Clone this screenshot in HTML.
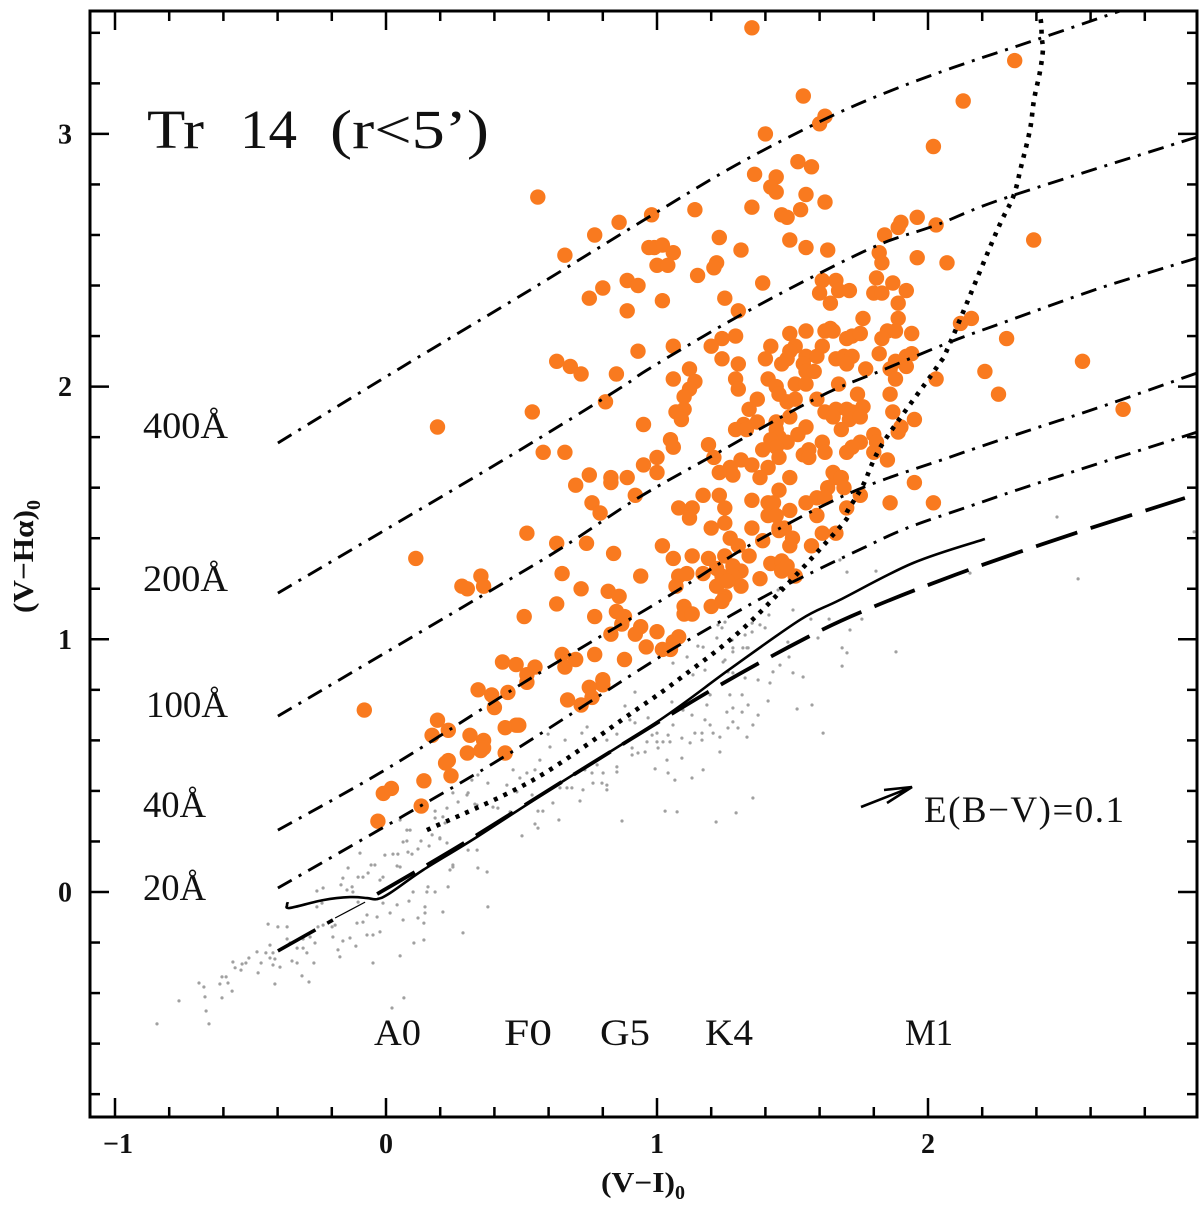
<!DOCTYPE html>
<html lang="en">
<head>
<meta charset="utf-8">
<title>Tr 14 (V-Hα)0 vs (V-I)0 diagram</title>
<style>
html,body{margin:0;padding:0;background:#fff;}
svg{display:block;}
text{font-family:"Liberation Serif",serif;fill:#111;}
.lab{font-size:37px;}
.tick{font-size:28px;font-weight:bold;}
.axt{font-size:28px;font-weight:bold;}
.ttl{font-size:55px;}
</style>
</head>
<body>
<svg id="chart" xmlns="http://www.w3.org/2000/svg" width="1200" height="1205" viewBox="0 0 1200 1205">
  <rect x="0" y="0" width="1200" height="1205" fill="#fff"/>
  <defs><clipPath id="plotClip"><rect x="90" y="11" width="1107" height="1106"/></clipPath></defs>
  <g id="field" clip-path="url(#plotClip)"></g>
  <g id="members" clip-path="url(#plotClip)"></g>
  <g id="curves" clip-path="url(#plotClip)"></g>
  <g id="ticks"></g>
  <rect x="90" y="11" width="1107" height="1106" fill="none" stroke="#000" stroke-width="3"/>

  <g>
    <text class="ttl" x="147" y="148" textLength="57" lengthAdjust="spacingAndGlyphs">Tr</text>
    <text class="ttl" x="240" y="148" textLength="57" lengthAdjust="spacingAndGlyphs">14</text>
    <text class="ttl" x="330" y="148" textLength="159" lengthAdjust="spacingAndGlyphs">(r&lt;5’)</text>
  </g>

  <text class="lab" x="143" y="438" textLength="85" lengthAdjust="spacingAndGlyphs">400Å</text>
  <text class="lab" x="143" y="591" textLength="85" lengthAdjust="spacingAndGlyphs">200Å</text>
  <text class="lab" x="146" y="717" textLength="82" lengthAdjust="spacingAndGlyphs">100Å</text>
  <text class="lab" x="143" y="817" textLength="63" lengthAdjust="spacingAndGlyphs">40Å</text>
  <text class="lab" x="143" y="900" textLength="63" lengthAdjust="spacingAndGlyphs">20Å</text>

  <text class="lab" x="374" y="1045" textLength="47" lengthAdjust="spacingAndGlyphs">A0</text>
  <text class="lab" x="504" y="1045" textLength="48" lengthAdjust="spacingAndGlyphs">F0</text>
  <text class="lab" x="600" y="1045" textLength="50" lengthAdjust="spacingAndGlyphs">G5</text>
  <text class="lab" x="705" y="1045" textLength="48" lengthAdjust="spacingAndGlyphs">K4</text>
  <text class="lab" x="905" y="1045" textLength="48" lengthAdjust="spacingAndGlyphs">M1</text>

  <g fill="none" stroke="#000" stroke-width="2.6">
    <path d="M861 807 L912 787 M884 790 L912 787 L887 803"/>
  </g>
  <text class="lab" x="924" y="822" textLength="200" lengthAdjust="spacing">E(B−V)=0.1</text>

  <text class="axt" x="601" y="1192" textLength="74" lengthAdjust="spacingAndGlyphs">(V−I)</text>
  <text class="axt" x="675" y="1199" style="font-size:20px">0</text>
  <g transform="translate(33,613) rotate(-90)">
    <text class="axt" x="0" y="0" textLength="103" lengthAdjust="spacingAndGlyphs">(V−Hα)</text>
    <text class="axt" x="103" y="7" style="font-size:20px">0</text>
  </g>
</svg>
<script>
// ---- chart data (in magnitudes) ----
const xMajorTicks = [-1, 0, 1, 2];
const xMinorTicks = [-0.8, -0.6, -0.4, -0.2, 0.2, 0.4, 0.6, 0.8, 1.2, 1.4, 1.6, 1.8, 2.2, 2.4, 2.6, 2.8];
const yMajorTicks = [0, 1, 2, 3];
const yMinorTicks = [-0.8, -0.6, -0.4, -0.2, 0.2, 0.4, 0.6, 0.8, 1.2, 1.4, 1.6, 1.8, 2.2, 2.4, 2.6, 2.8, 3.2, 3.4];
const xTickLabels = ["−1", "0", "1", "2"];
const yTickLabels = ["0", "1", "2", "3"];

const ew400X = [-0.399, 0.052, 0.531, 0.982, 1.292, 1.598, 1.823, 2.089, 2.417, 2.745];
const ew400Y = [1.777, 2.073, 2.382, 2.679, 2.877, 3.047, 3.154, 3.261, 3.379, 3.5];
const ew200X = [-0.399, 0.421, 0.852, 0.974, 1.295, 1.601, 1.834, 2.03, 2.295, 2.993];
const ew200Y = [1.183, 1.702, 1.986, 2.073, 2.275, 2.449, 2.568, 2.639, 2.75, 2.988];
const ew100X = [-0.399, 0.421, 0.653, 0.93, 1.196, 1.59, 1.834, 2.081, 2.303, 2.635, 2.993];
const ew100Y = [0.696, 1.215, 1.365, 1.559, 1.721, 1.955, 2.066, 2.176, 2.263, 2.39, 2.509];
const ew40X = [-0.399, 0.015, 0.542, 1.048, 1.343, 1.712, 2.081, 2.376, 2.635, 2.993];
const ew40Y = [0.245, 0.495, 0.851, 1.175, 1.373, 1.579, 1.721, 1.828, 1.919, 2.054];
const ew20X = [-0.399, 0.07, 0.446, 0.974, 1.148, 1.406, 1.59, 1.76, 1.922, 2.166, 2.439, 2.993];
const ew20Y = [0.016, 0.305, 0.542, 0.906, 1.017, 1.175, 1.274, 1.361, 1.44, 1.531, 1.63, 1.82];
const dottedX = [0.151, 0.542, 0.911, 1.092, 1.343, 1.675, 1.701, 1.76, 1.834, 2.03, 2.081, 2.251, 2.314, 2.343, 2.376, 2.391, 2.413, 2.424, 2.42, 2.417, 2.409];
const dottedY = [0.245, 0.443, 0.712, 0.851, 1.068, 1.444, 1.504, 1.61, 1.777, 2.073, 2.172, 2.608, 2.75, 2.869, 3.015, 3.134, 3.245, 3.332, 3.379, 3.443, 3.482];
const dwarfX = [-0.362, -0.365, -0.354, -0.232, -0.133, -0.07, -0.033, 0.015, 0.137, 0.336, 0.642, 1.011, 1.269, 1.528, 1.675, 1.945, 2.21];
const dwarfY = [-0.04, -0.051, -0.063, -0.032, -0.02, -0.024, -0.028, -0.004, 0.087, 0.218, 0.431, 0.681, 0.882, 1.077, 1.156, 1.302, 1.397];
const giantLowX = [-0.399, -0.196];
const giantLowY = [-0.233, -0.111];
const giantThinX = [-0.188, -0.077];
const giantThinY = [-0.103, -0.04];
const giantX = [-0.033, 0.288, 0.69, 1.188, 1.557, 1.797, 2.148, 2.546, 2.948];
const giantY = [-0.008, 0.194, 0.463, 0.791, 1.009, 1.128, 1.274, 1.421, 1.559];

const memberStars = [
[1.35,3.42],[2.32,3.29],[1.54,3.15],[2.13,3.13],[1.62,3.07],[1.60,3.04],[1.40,3.00],[2.02,2.95],[1.52,2.89],[1.57,2.87],
[1.36,2.84],[1.44,2.83],[1.42,2.79],[1.44,2.77],[1.55,2.76],[0.56,2.75],[1.62,2.73],[1.35,2.71],[1.14,2.70],[1.46,2.68],
[1.48,2.67],[1.53,2.70],[0.98,2.68],[0.86,2.65],[1.96,2.67],[1.90,2.65],[1.89,2.63],[2.03,2.64],[0.77,2.60],[1.84,2.60],
[1.23,2.59],[1.49,2.58],[2.39,2.58],[0.99,2.55],[1.02,2.56],[1.06,2.53],[1.00,2.48],[1.04,2.48],[0.97,2.55],[1.31,2.54],
[1.55,2.55],[1.63,2.54],[0.66,2.52],[1.82,2.53],[1.83,2.49],[1.96,2.51],[2.07,2.49],[1.15,2.44],[1.22,2.49],[1.21,2.47],
[1.39,2.41],[1.25,2.35],[1.02,2.34],[1.30,2.30],[0.80,2.39],[0.75,2.35],[0.89,2.42],[0.93,2.40],[0.89,2.30],[1.61,2.42],
[1.66,2.42],[1.60,2.37],[1.67,2.38],[1.71,2.38],[1.64,2.33],[1.81,2.43],[1.87,2.41],[1.80,2.37],[1.83,2.37],[1.92,2.38],
[1.89,2.33],[1.89,2.27],[1.76,2.27],[1.85,2.22],[1.88,2.22],[1.83,2.19],[1.94,2.21],[1.49,2.21],[1.55,2.22],[1.62,2.22],
[1.64,2.23],[1.65,2.22],[1.70,2.19],[1.72,2.20],[1.75,2.21],[1.29,2.20],[1.24,2.19],[1.20,2.16],[1.06,2.16],[1.42,2.16],
[1.51,2.16],[1.49,2.14],[1.40,2.11],[1.48,2.11],[1.46,2.09],[1.61,2.16],[1.55,2.12],[1.59,2.12],[1.66,2.11],[1.69,2.12],
[1.72,2.12],[1.70,2.09],[1.82,2.13],[1.92,2.12],[1.94,2.13],[1.88,2.10],[1.92,2.08],[1.86,2.07],[1.77,2.07],[1.88,2.03],
[2.03,2.03],[1.24,2.11],[1.30,2.09],[1.12,2.07],[1.14,2.02],[1.06,2.03],[1.12,1.99],[1.10,1.96],[1.54,2.09],[1.55,2.06],
[1.58,2.06],[1.29,2.03],[1.30,1.99],[1.41,2.03],[1.44,2.00],[1.45,1.97],[1.51,2.01],[1.55,2.01],[1.67,2.01],[1.59,1.95],
[1.74,1.97],[1.86,1.97],[1.37,1.95],[1.34,1.91],[1.48,1.94],[1.51,1.95],[1.76,1.92],[1.62,1.90],[1.66,1.91],[1.65,1.88],
[1.70,1.91],[1.72,1.90],[1.71,1.87],[1.75,1.88],[1.68,1.83],[1.87,1.90],[1.95,1.87],[1.90,1.84],[1.89,1.82],[1.10,1.91],
[1.07,1.90],[1.09,1.87],[1.49,1.88],[1.44,1.86],[1.37,1.86],[1.32,1.85],[1.29,1.83],[1.33,1.83],[1.55,1.84],[1.52,1.81],
[1.44,1.83],[1.45,1.80],[1.48,1.78],[1.42,1.79],[1.44,1.76],[1.39,1.75],[1.45,1.72],[1.05,1.79],[1.06,1.76],[1.00,1.72],
[1.00,1.66],[1.19,1.77],[1.21,1.72],[1.61,1.78],[1.62,1.74],[1.56,1.75],[1.54,1.73],[1.56,1.72],[1.75,1.78],[1.72,1.76],
[1.70,1.74],[1.80,1.81],[1.81,1.78],[1.80,1.74],[1.85,1.71],[1.31,1.71],[1.35,1.69],[1.27,1.68],[1.28,1.65],[1.23,1.66],
[1.41,1.68],[1.38,1.64],[1.49,1.64],[1.65,1.66],[1.66,1.64],[1.68,1.64],[1.69,1.60],[1.63,1.60],[1.95,1.62],[1.45,1.59],
[1.17,1.57],[1.23,1.57],[1.59,1.56],[1.62,1.56],[1.75,1.57],[1.86,1.54],[2.02,1.54],[1.35,1.55],[1.41,1.54],[1.43,1.54],
[1.55,1.54],[1.08,1.52],[1.13,1.52],[1.25,1.52],[1.12,1.48],[1.25,1.46],[1.49,1.51],[1.70,1.52],[1.41,1.49],[1.44,1.49],
[1.59,1.49],[1.20,1.44],[1.35,1.44],[1.45,1.44],[1.47,1.44],[1.02,1.37],[1.06,1.32],[1.13,1.33],[1.19,1.32],[1.25,1.33],
[1.27,1.40],[1.30,1.37],[1.34,1.33],[1.39,1.39],[1.45,1.43],[1.50,1.40],[1.49,1.37],[1.57,1.37],[1.61,1.42],[1.66,1.42],
[1.42,1.30],[1.46,1.31],[1.46,1.27],[1.48,1.29],[1.51,1.25],[1.38,1.24],[1.08,1.25],[1.11,1.26],[1.07,1.21],[1.17,1.26],
[1.22,1.28],[1.28,1.29],[1.31,1.27],[1.24,1.25],[1.28,1.25],[1.22,1.21],[1.31,1.21],[1.26,1.23],[1.25,1.17],[1.20,1.13],
[1.24,1.15],[1.10,1.13],[1.10,1.10],[1.13,1.10],[1.00,1.03],[1.08,1.01],[1.06,0.99],[1.02,0.96],[0.93,2.14],[0.63,2.10],
[0.68,2.08],[0.72,2.05],[0.85,2.05],[0.81,1.94],[0.54,1.90],[0.95,1.85],[0.58,1.74],[0.66,1.74],[0.95,1.69],[0.75,1.65],
[0.70,1.61],[0.83,1.64],[0.83,1.62],[0.89,1.64],[0.92,1.57],[0.76,1.54],[0.79,1.50],[0.52,1.42],[0.63,1.38],[0.74,1.38],
[0.84,1.34],[0.94,1.25],[0.65,1.26],[0.72,1.20],[0.82,1.19],[0.86,1.17],[0.63,1.14],[0.51,1.09],[0.77,1.09],[0.85,1.11],
[0.88,1.09],[0.87,1.06],[0.94,1.05],[0.83,1.02],[0.92,1.02],[0.96,0.97],[0.65,0.94],[0.66,0.89],[0.70,0.92],[0.77,0.94],
[0.88,0.92],[0.43,0.91],[0.48,0.90],[0.55,0.89],[0.52,0.86],[0.52,0.83],[0.80,0.84],[0.80,0.82],[0.75,0.81],[0.76,0.77],
[0.72,0.74],[0.67,0.76],[1.05,0.96],[0.34,0.80],[0.39,0.78],[0.45,0.79],[0.40,0.73],[0.19,0.68],[0.23,0.64],[0.17,0.62],
[0.31,0.62],[0.30,0.55],[0.36,0.60],[0.36,0.57],[0.35,0.56],[0.44,0.65],[0.48,0.66],[0.49,0.66],[0.44,0.55],[0.23,0.52],
[0.22,0.51],[0.24,0.46],[0.14,0.44],[0.13,0.34],[-0.01,0.39],[0.02,0.41],[-0.03,0.28],[-0.08,0.72],[0.19,1.84],[0.11,1.32],
[0.28,1.21],[0.30,1.20],[0.35,1.25],[0.36,1.21],[2.57,2.10],[2.72,1.91],[2.29,2.19],[2.21,2.06],[2.26,1.97],[2.16,2.27],[2.12,2.25]
];

const fieldStars = [
[-.845,-.522],[-.764,-.431],[-.69,-.36],[-.672,-.376],[-.668,-.415],[-.664,-.471],[-.653,-.522],[-.613,-.364],[-.605,-.336],[-.59,-.336],
[-.583,-.36],[-.605,-.419],[-.568,-.392],[-.565,-.277],[-.557,-.30],[-.535,-.309],[-.531,-.285],[-.517,-.281],[-.506,-.261],[-.476,-.237],
[-.472,-.32],[-.461,-.281],[-.443,-.241],[-.428,-.21],[-.417,-.241],[-.428,-.261],[-.41,-.265],[-.417,-.289],[-.391,-.297],[-.41,-.364],
[-.399,-.138],[-.435,-.127],[-.365,-.138],[-.365,-.186],[-.354,-.202],[-.328,-.222],[-.306,-.222],[-.292,-.241],[-.347,-.273],[-.328,-.281],
[-.31,-.332],[-.284,-.356],[-.266,-.281],[-.262,-.202],[-.28,-.178],[-.306,-.186],[-.251,-.138],[-.232,-.131],[-.199,-.138],[-.188,-.131],
[-.196,-.178],[-.159,-.194],[-.111,-.214],[-.177,-.229],[-.17,-.257],[-.133,-.182],[-.07,-.17],[-.048,-.17],[-.022,-.158],[-.048,-.281],
[.022,-.459],[.066,-.419],[.052,-.253],[.103,-.202],[.14,-.19],[.284,-.162],[-.255,.004],[-.232,.016],[-.255,-.059],[-.236,-.044],
[-.14,.095],[-.159,.055],[-.166,.028],[-.144,.008],[-.125,.02],[-.122,0],[-.103,.059],[-.085,.059],[-.066,.075],[-.055,.107],
[-.041,.107],[-.096,.154],[-.011,.059],[-.022,.047],[-.004,.146],[.026,.15],[.044,.15],[.041,.103],[.052,.099],[.081,.158],
[.096,.15],[.118,.17],[.063,.198],[.077,.202],[.129,.202],[.159,.182],[.17,.226],[.199,.21],[.225,.194],[.181,.293],
[.225,.332],[.247,.392],[.299,.384],[.336,.344],[.266,.356],[.303,.166],[.336,.166],[.339,.095],[.373,.079],[.247,.107],
[.236,.087],[.229,.02],[.247,.099],[.181,0],[.155,.02],[.151,0],[.1,0],[.085,-.036],[.144,-.059],[.144,-.083],
[.21,-.079],[.376,-.059],[.118,-.103],[.14,-.123],[.063,-.111],[.041,-.051],[.015,-.083],[-.011,-.044],[-.033,-.099],[-.07,-.091],
[-.103,-.04],[-.085,-.119],[-.107,-.123],[.598,.625],[.661,.601],[.723,.629],[.742,.653],[.815,.601],[.852,.625],[.9,.681],
[.882,.736],[.919,.669],[.919,.791],[.967,.689],[1.0,.629],[.982,.621],[.963,.594],[1.0,.594],[1.004,.57],[.908,.57],
[.908,.542],[.93,.55],[.956,.554],[1.022,.594],[1.041,.621],[1.048,.594],[1.059,.661],[1.055,.752],[1.096,.72],[1.129,.7],
[1.092,.609],[1.122,.59],[1.14,.629],[1.166,.629],[1.166,.601],[1.177,.681],[1.196,.661],[1.207,.629],[1.232,.613],[1.232,.554],
[1.258,.712],[1.28,.728],[1.314,.78],[1.336,.74],[1.314,.712],[1.28,.673],[1.299,.649],[1.354,.661],[1.373,.7],[1.332,.613],
[1.262,.649],[1.269,.78],[1.196,.78],[1.184,.74],[1.417,.827],[1.373,.839],[1.325,.847],[1.428,.871],[1.454,.898],[1.502,.867],
[1.539,.851],[1.487,.93],[1.483,.989],[1.41,.756],[1.517,.724],[1.572,.74],[1.613,.629],[1.683,.894],[1.701,.946],[1.683,.966],
[1.594,1.005],[1.28,.867],[1.262,.871],[1.244,.91],[1.28,.95],[1.332,.966],[1.38,1.057],[1.399,1.045],[1.151,.973],[1.17,.969],
[1.111,.93],[1.059,.906],[1.177,.878],[1.133,.859],[.993,.487],[1.037,.522],[1.092,.53],[1.041,.471],[1.066,.443],[1.129,.451],
[1.17,.483],[1.354,.372],[1.292,.313],[1.218,.277],[1.074,.317],[1.03,.32],[.871,.281],[.716,.36],[.638,.285],[.579,.32],
[.561,.32],[.616,.352],[.55,.269],[.561,.253],[.502,.222],[.815,.404],[.797,.431],[.815,.423],[.764,.431],[.734,.483],
[.727,.404],[.686,.412],[.668,.412],[.852,.495],[.852,.475],[.801,.471],[.76,.471],[.779,.503],[.642,.412],[.605,.574],
[.55,.483],[.568,.522],[.52,.471],[.494,.451],[.469,.483],[.446,.423],[.483,.396],[.539,.384],[.376,.431],[.303,.392],
[.339,.463],[.317,.443],[.328,.348],[.395,.336],[.413,.332],[.458,.317],[.21,.297],[.181,.32],[.218,.273],[.089,.245],
[.052,.285],[.077,.245],[.199,.214],[1.502,1.116],[1.675,1.314],[1.701,1.266],[1.808,1.27],[1.756,1.08],[1.712,1.037],[1.882,.95],
[1.568,1.08],[1.635,1.08],[1.447,1.195],[1.413,1.096],[1.351,1.064],[1.251,1.068],[1.225,1.057],[1.24,1.045],[1.325,1.017],[1.351,1.029],
[1.277,.997],[1.221,1.005],[1.28,.966],[1.317,.966],[1.336,.966],[1.251,.918],[2.476,1.484],[2.982,1.425],[2.155,1.262],[2.554,1.239]
];

// ---- axis functions ----
const xScale = function (v) { return 386 + 271 * v; };
const yScale = function (v) { return 892 - 252.7 * v; };
const NS = 'http://www.w3.org/2000/svg';
const root = document.getElementById('chart');
const fieldLayer = document.getElementById('field');
const memberLayer = document.getElementById('members');
const curveLayer = document.getElementById('curves');
const tickLayer = document.getElementById('ticks');

// Smooth curve through the data points (Catmull-Rom to cubic Bezier)
function pathFrom(xs, ys) {
  const px = xs.map(xScale);
  const py = ys.map(yScale);
  const n = px.length;
  let d = 'M' + px[0].toFixed(1) + ' ' + py[0].toFixed(1);
  for (let i = 0; i < n - 1; i++) {
    const a = Math.max(i - 1, 0);
    const b = Math.min(i + 2, n - 1);
    const c1x = px[i] + (px[i + 1] - px[a]) / 6;
    const c1y = py[i] + (py[i + 1] - py[a]) / 6;
    const c2x = px[i + 1] - (px[b] - px[i]) / 6;
    const c2y = py[i + 1] - (py[b] - py[i]) / 6;
    d += ' C' + c1x.toFixed(1) + ' ' + c1y.toFixed(1) + ' ' + c2x.toFixed(1) + ' ' + c2y.toFixed(1) + ' ' + px[i + 1].toFixed(1) + ' ' + py[i + 1].toFixed(1);
  }
  return d;
}

fieldStars.forEach(function (p) {
  const c = document.createElementNS(NS, 'circle');
  
  
  c.setAttribute('cx', xScale(p[0]).toFixed(1));
  c.setAttribute('cy', yScale(p[1]).toFixed(1));
  c.setAttribute('r', '1.6');
  c.setAttribute('fill', '#a0a0a0');
  fieldLayer.appendChild(c);
});

memberStars.forEach(function (p) {
  const c = document.createElementNS(NS, 'circle');
  
  
  c.setAttribute('cx', xScale(p[0]).toFixed(1));
  c.setAttribute('cy', yScale(p[1]).toFixed(1));
  c.setAttribute('r', '7.7');
  c.setAttribute('fill', '#f97a1f');
  memberLayer.appendChild(c);
});

function addCurve(name, xs, ys, width, dash, cap) {
  const el = document.createElementNS(NS, 'path');
  
  
  el.setAttribute('d', pathFrom(xs, ys));
  el.setAttribute('fill', 'none');
  el.setAttribute('stroke', '#000');
  el.setAttribute('stroke-width', width);
  el.setAttribute('stroke-linejoin', 'round');
  if (dash) { el.setAttribute('stroke-dasharray', dash); }
  if (cap) { el.setAttribute('stroke-linecap', cap); }
  curveLayer.appendChild(el);
}

const ewDash = '16 8 3 8';
addCurve('ew-curve-400', ew400X, ew400Y, 2.9, ewDash);
addCurve('ew-curve-200', ew200X, ew200Y, 2.9, ewDash);
addCurve('ew-curve-100', ew100X, ew100Y, 2.9, ewDash);
addCurve('ew-curve-40', ew40X, ew40Y, 2.9, ewDash);
addCurve('ew-curve-20', ew20X, ew20Y, 2.9, ewDash);
addCurve('dotted-locus', dottedX, dottedY, 4.6, '4 6.5');
addCurve('dwarf-sequence', dwarfX, dwarfY, 2.6);
addCurve('giant-sequence-start', giantLowX, giantLowY, 3.6, '43 13.5');
addCurve('giant-sequence-thin', giantThinX, giantThinY, 1.2);
addCurve('giant-sequence', giantX, giantY, 3.8, '43.5 14');

function addTick(name, x1, y1, x2, y2) {
  const t = document.createElementNS(NS, 'line');
  
  
  t.setAttribute('x1', x1);
  t.setAttribute('y1', y1);
  t.setAttribute('x2', x2);
  t.setAttribute('y2', y2);
  t.setAttribute('stroke', '#000');
  t.setAttribute('stroke-width', '2.5');
  tickLayer.appendChild(t);
}

function addXTicks(values, len) {
  values.forEach(function (v) {
    const x = xScale(v);
    addTick('x-tick-bottom', x, 1117, x, 1117 - len);
    addTick('x-tick-top', x, 11, x, 11 + len);
  });
}
function addYTicks(values, len) {
  values.forEach(function (v) {
    const y = yScale(v);
    addTick('y-tick-left', 90, y, 90 + len, y);
    addTick('y-tick-right', 1197, y, 1197 - len, y);
  });
}
addXTicks(xMajorTicks, 19);
addXTicks(xMinorTicks, 10);
addYTicks(yMajorTicks, 19);
addYTicks(yMinorTicks, 10);

xMajorTicks.forEach(function (v, i) {
  const t = document.createElementNS(NS, 'text');
  
  
  t.setAttribute('class', 'tick');
  t.setAttribute('x', xScale(v));
  t.setAttribute('y', 1153);
  t.setAttribute('text-anchor', i === 0 ? 'end' : 'middle');
  if (i === 0) { t.setAttribute('dx', '18'); }
  t.textContent = xTickLabels[i];
  root.appendChild(t);
});
yMajorTicks.forEach(function (v, i) {
  const t = document.createElementNS(NS, 'text');
  
  
  t.setAttribute('class', 'tick');
  t.setAttribute('x', 65);
  t.setAttribute('y', yScale(v) + 9.5);
  t.setAttribute('text-anchor', 'middle');
  t.textContent = yTickLabels[i];
  root.appendChild(t);
});
</script>
</body>
</html>
